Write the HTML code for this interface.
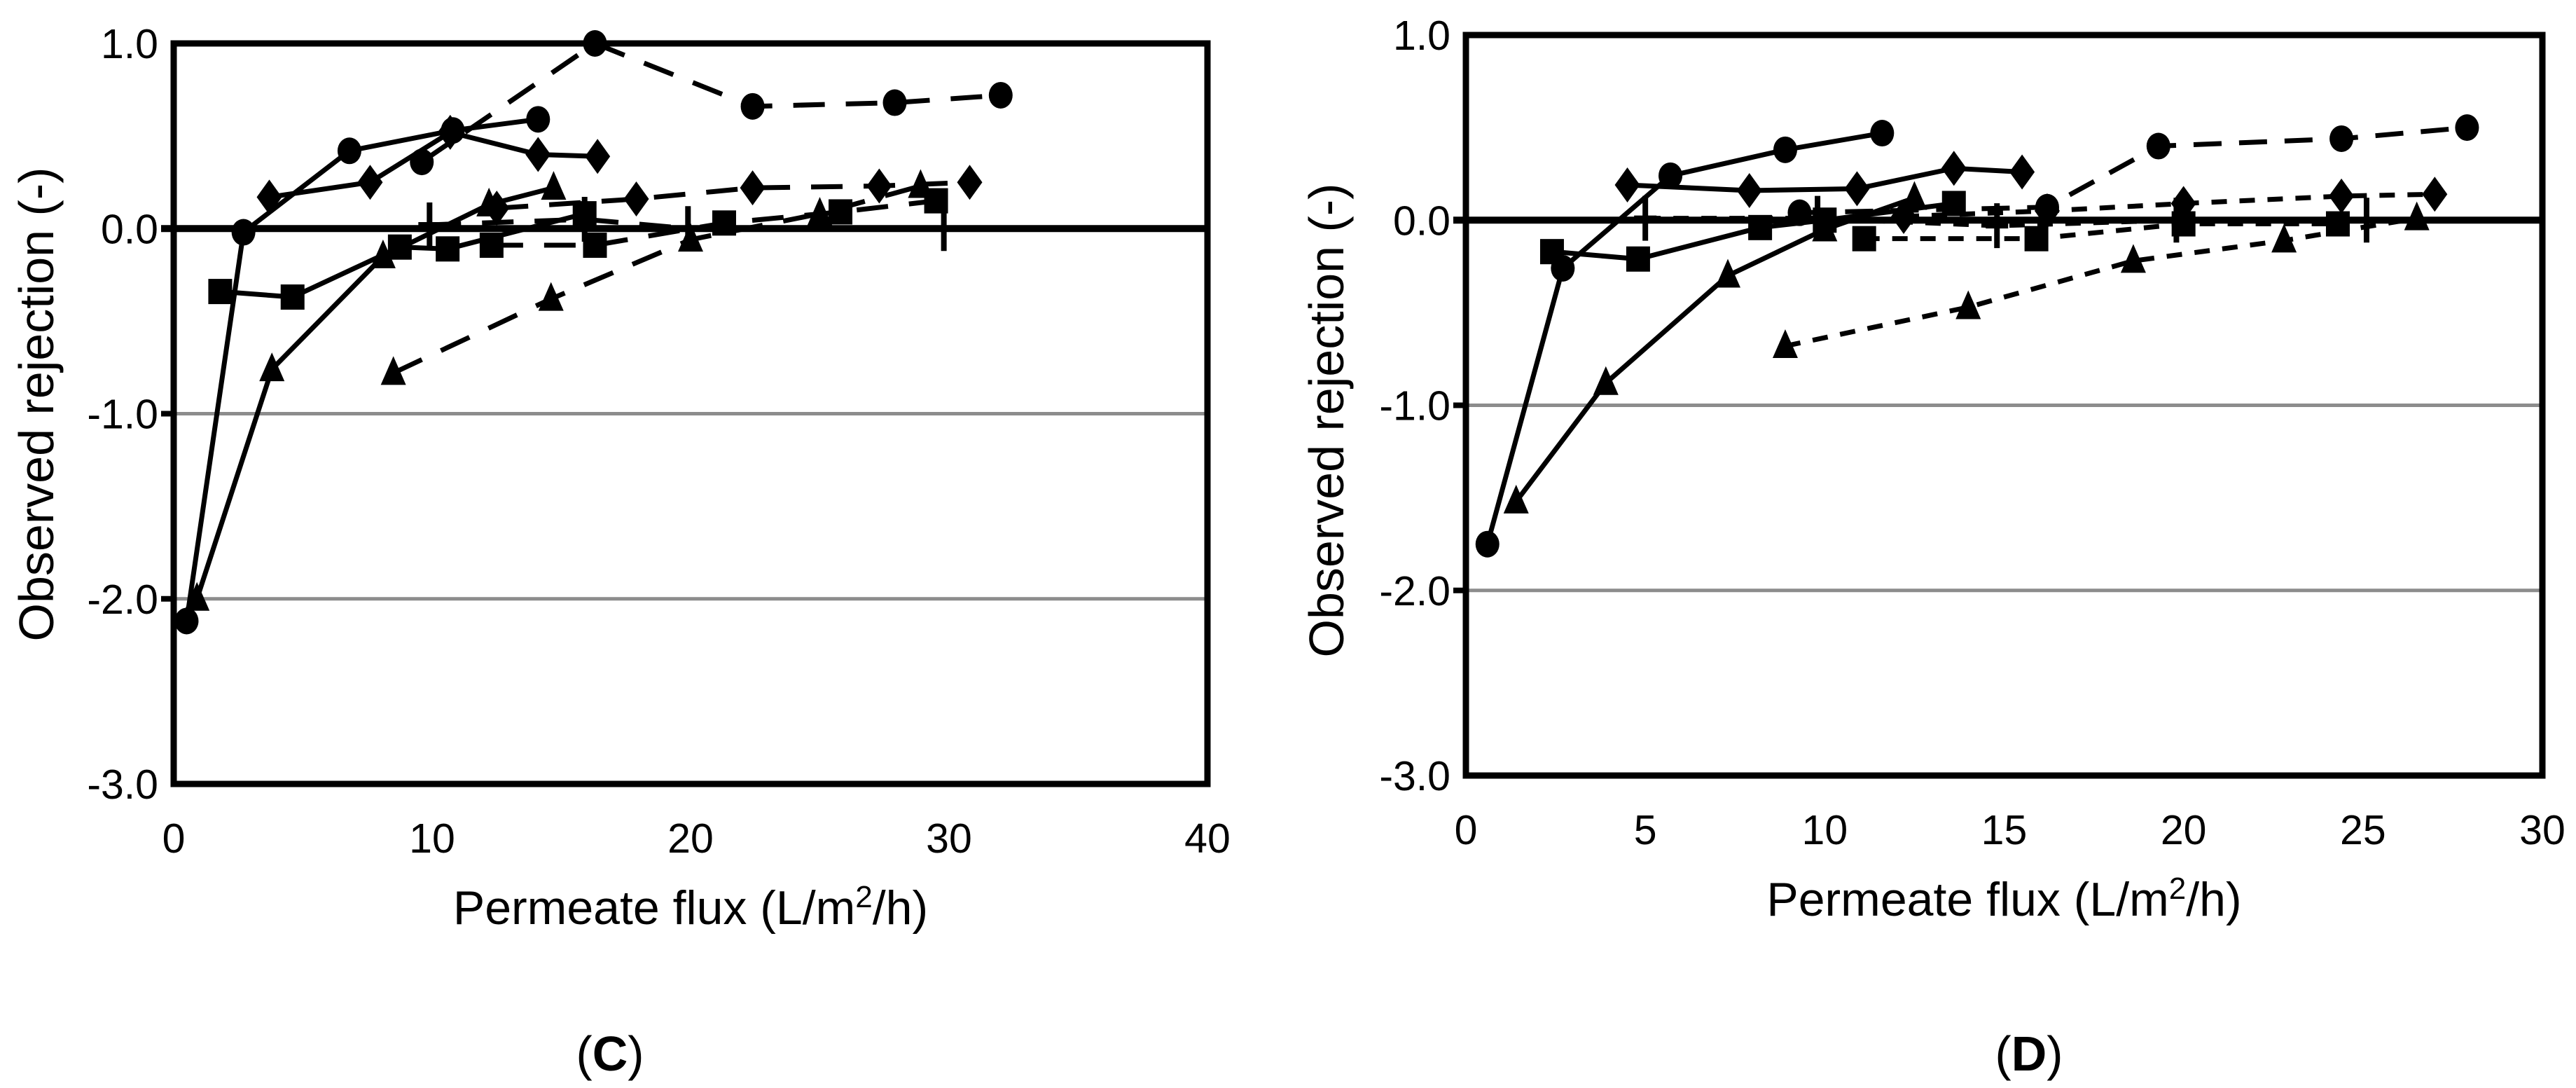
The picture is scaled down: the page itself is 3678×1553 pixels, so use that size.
<!DOCTYPE html>
<html><head><meta charset="utf-8"><style>
html,body{margin:0;padding:0;background:#fff;}
svg{display:block;}
text{font-family:"Liberation Sans",sans-serif;}
</style></head><body>
<svg id="fig" width="3678" height="1553" viewBox="0 0 3678 1553" xmlns="http://www.w3.org/2000/svg"></svg>
<script>
// ---- Panel C data ----
const cYTicks = [1.0, 0.0, -1.0, -2.0, -3.0];
const cXTicks = [0, 10, 20, 30, 40];
const cCircleSolidX = [0.5, 2.7, 6.8, 10.8, 14.1];
const cCircleSolidY = [-2.12, -0.02, 0.42, 0.53, 0.59];
const cCircleDashX = [9.6, 16.3, 22.4, 27.9, 32.0];
const cCircleDashY = [0.36, 1.0, 0.66, 0.68, 0.72];
const cDiamondSolidX = [3.7, 7.6, 10.7, 14.1, 16.4];
const cDiamondSolidY = [0.17, 0.25, 0.52, 0.40, 0.39];
const cDiamondDashX = [12.5, 17.9, 22.4, 27.3, 30.8];
const cDiamondDashY = [0.11, 0.16, 0.22, 0.23, 0.25];
const cSquareSolidX = [1.8, 4.6, 8.75, 10.6, 15.9];
const cSquareSolidY = [-0.34, -0.37, -0.10, -0.11, 0.08];
const cSquareDashX = [12.3, 16.3, 21.3, 25.8, 29.5];
const cSquareDashY = [-0.09, -0.09, 0.03, 0.09, 0.15];
const cTriSolidX = [0.9, 3.8, 8.1, 12.2, 14.7];
const cTriSolidY = [-2.0, -0.76, -0.15, 0.13, 0.22];
const cTriDashX = [8.5, 14.6, 20.0, 25.0, 28.9];
const cTriDashY = [-0.78, -0.38, -0.06, 0.08, 0.23];
const cPlusX = [9.9, 15.9, 19.9, 29.8];
const cPlusY = [0.02, 0.05, 0.0, 0.0];
// ---- Panel D data ----
const dYTicks = [1.0, 0.0, -1.0, -2.0, -3.0];
const dXTicks = [0, 5, 10, 15, 20, 25, 30];
const dCircleSolidX = [0.6, 2.7, 5.7, 8.9, 11.6];
const dCircleSolidY = [-1.75, -0.26, 0.24, 0.38, 0.47];
const dCircleDashX = [9.3, 16.2, 19.3, 24.4, 27.9];
const dCircleDashY = [0.04, 0.07, 0.40, 0.44, 0.50];
const dDiamondSolidX = [4.5, 7.9, 10.9, 13.6, 15.5];
const dDiamondSolidY = [0.19, 0.16, 0.17, 0.28, 0.26];
const dDiamondDashX = [12.2, 16.2, 20.0, 24.4, 27.0];
const dDiamondDashY = [0.02, 0.05, 0.09, 0.13, 0.14];
const dSquareSolidX = [2.4, 4.8, 8.2, 10.0, 13.6];
const dSquareSolidY = [-0.17, -0.21, -0.04, 0.0, 0.09];
const dSquareDashX = [11.1, 15.9, 20.0, 24.3];
const dSquareDashY = [-0.10, -0.10, -0.02, -0.02];
const dTriSolidX = [1.4, 3.9, 7.3, 10.0, 12.5];
const dTriSolidY = [-1.52, -0.88, -0.30, -0.05, 0.12];
const dTriDashX = [8.9, 14.0, 18.6, 22.8, 26.5];
const dTriDashY = [-0.68, -0.47, -0.22, -0.11, 0.01];
const dPlusX = [5.0, 9.8, 14.8, 19.8, 25.1];
const dPlusY = [0.01, 0.01, -0.03, 0.0, 0.0];

const NS = "http://www.w3.org/2000/svg";
const svg = document.getElementById('fig');
function mk(tag, attrs, parent){const e=document.createElementNS(NS,tag);for(const k in attrs)e.setAttribute(k,attrs[k]);(parent||svg).appendChild(e);return e;}

function panel(cfg){
  const g = mk('g',{});
  
  
  const sx = v => cfg.x0 + (v - cfg.xmin)/(cfg.xmax-cfg.xmin)*(cfg.x1-cfg.x0);
  const sy = v => cfg.y0 + (cfg.ymax - v)/(cfg.ymax-cfg.ymin)*(cfg.y1-cfg.y0);
  cfg.yTicks.forEach(t=>{
    if(t===0||t===cfg.ymax||t===cfg.ymin) return;
    const l=mk('line',{x1:cfg.x0,x2:cfg.x1,y1:sy(t),y2:sy(t),stroke:'#8c8c8c','stroke-width':5},g);
    
    
    const tk=mk('line',{x1:cfg.x0-18,x2:cfg.x0,y1:sy(t),y2:sy(t),stroke:'#000','stroke-width':8},g);
    
    
  });
  const fr=mk('rect',{x:cfg.x0,y:cfg.y0,width:cfg.x1-cfg.x0,height:cfg.y1-cfg.y0,fill:'none',stroke:'#000','stroke-width':9},g);
  
  
  const zl=mk('line',{x1:cfg.x0-18,x2:cfg.x1,y1:sy(0),y2:sy(0),stroke:'#000','stroke-width':10},g);
  
  
  cfg.yTicks.forEach(t=>{
    const tx=mk('text',{x:cfg.x0-22,y:sy(t)+21,'text-anchor':'end','font-size':59},g);
    tx.textContent=t.toFixed(1);
    
    
  });
  cfg.xTicks.forEach(t=>{
    const tx=mk('text',{x:sx(t),y:cfg.y1+98,'text-anchor':'middle','font-size':59},g);
    tx.textContent=String(t);
    
    
  });
  const xt=mk('text',{x:(cfg.x0+cfg.x1)/2,y:cfg.y1+200,'text-anchor':'middle','font-size':68},g);
  xt.innerHTML='Permeate flux (L/m<tspan baseline-shift="super" font-size="44">2</tspan>/h)';
  
  
  const yt=mk('text',{x:0,y:0,'text-anchor':'middle','font-size':70,transform:`translate(${cfg.ytx},${cfg.yty}) rotate(-90)`},g);
  yt.textContent='Observed rejection (-)';
  
  
  const pl=mk('text',{x:cfg.labx,y:1528,'text-anchor':'middle','font-size':70,'font-family':'"Liberation Serif",serif'},g);
  pl.innerHTML='(<tspan font-weight="bold">'+cfg.letter+'</tspan>)';
  
  

  cfg.series.forEach(s=>{
    const sg=mk('g',{},g);
    
    
    const pts=s.xs.map((x,i)=>sx(x)+','+sy(s.ys[i])).join(' ');
    const attrs={points:pts,fill:'none',stroke:'#000','stroke-width':7,'stroke-linejoin':'round'};
    if(s.dash) attrs['stroke-dasharray']=s.dash;
    const pline=mk('polyline',attrs,sg);
    
    
    s.xs.forEach((x,i)=>{
      const px=sx(x), py=sy(s.ys[i]); let m;
      if(s.m==='circle') m=mk('ellipse',{cx:px,cy:py,rx:17,ry:19,fill:'#000'},sg);
      else if(s.m==='square') m=mk('rect',{x:px-17,y:py-18,width:34,height:36,fill:'#000'},sg);
      else if(s.m==='diamond') m=mk('polygon',{points:`${px},${py-25} ${px+18},${py} ${px},${py+25} ${px-18},${py}`,fill:'#000'},sg);
      else if(s.m==='tri') m=mk('polygon',{points:`${px},${py-24} ${px+18},${py+17} ${px-18},${py+17}`,fill:'#000'},sg);
      else m=mk('path',{d:`M${px-16},${py}H${px+16}M${px},${py-32}V${py+32}`,stroke:'#000','stroke-width':8,fill:'none'},sg);
      
      
    });
  });
}

panel({name:'panel-c',letter:'C',x0:248,x1:1724,y0:62,y1:1119,xmin:0,xmax:40,ymin:-3,ymax:1,
  yTicks:cYTicks,xTicks:cXTicks,ytx:76,yty:577,labx:871,
  series:[
    {name:'c-circle-solid',xs:cCircleSolidX,ys:cCircleSolidY,m:'circle'},
    {name:'c-circle-dashed',xs:cCircleDashX,ys:cCircleDashY,m:'circle',dash:'45 30'},
    {name:'c-diamond-solid',xs:cDiamondSolidX,ys:cDiamondSolidY,m:'diamond'},
    {name:'c-diamond-dashed',xs:cDiamondDashX,ys:cDiamondDashY,m:'diamond',dash:'45 30'},
    {name:'c-square-solid',xs:cSquareSolidX,ys:cSquareSolidY,m:'square'},
    {name:'c-square-dashed',xs:cSquareDashX,ys:cSquareDashY,m:'square',dash:'45 30'},
    {name:'c-triangle-solid',xs:cTriSolidX,ys:cTriSolidY,m:'tri'},
    {name:'c-triangle-dashed',xs:cTriDashX,ys:cTriDashY,m:'tri',dash:'45 30'},
    {name:'c-plus-dashed',xs:cPlusX,ys:cPlusY,m:'plus',dash:'45 30'}
  ]});
panel({name:'panel-d',letter:'D',x0:2093,x1:3630,y0:50,y1:1107,xmin:0,xmax:30,ymin:-3,ymax:1,
  yTicks:dYTicks,xTicks:dXTicks,ytx:1918,yty:600,labx:2897,
  series:[
    {name:'d-circle-solid',xs:dCircleSolidX,ys:dCircleSolidY,m:'circle'},
    {name:'d-circle-dashed',xs:dCircleDashX,ys:dCircleDashY,m:'circle',dash:'40 25'},
    {name:'d-diamond-solid',xs:dDiamondSolidX,ys:dDiamondSolidY,m:'diamond'},
    {name:'d-diamond-dashed',xs:dDiamondDashX,ys:dDiamondDashY,m:'diamond',dash:'22 18'},
    {name:'d-square-solid',xs:dSquareSolidX,ys:dSquareSolidY,m:'square'},
    {name:'d-square-dashed',xs:dSquareDashX,ys:dSquareDashY,m:'square',dash:'22 18'},
    {name:'d-triangle-solid',xs:dTriSolidX,ys:dTriSolidY,m:'tri'},
    {name:'d-triangle-dashed',xs:dTriDashX,ys:dTriDashY,m:'tri',dash:'22 18'},
    {name:'d-plus-dashed',xs:dPlusX,ys:dPlusY,m:'plus',dash:'22 18'}
  ]});
</script>
</body></html>
